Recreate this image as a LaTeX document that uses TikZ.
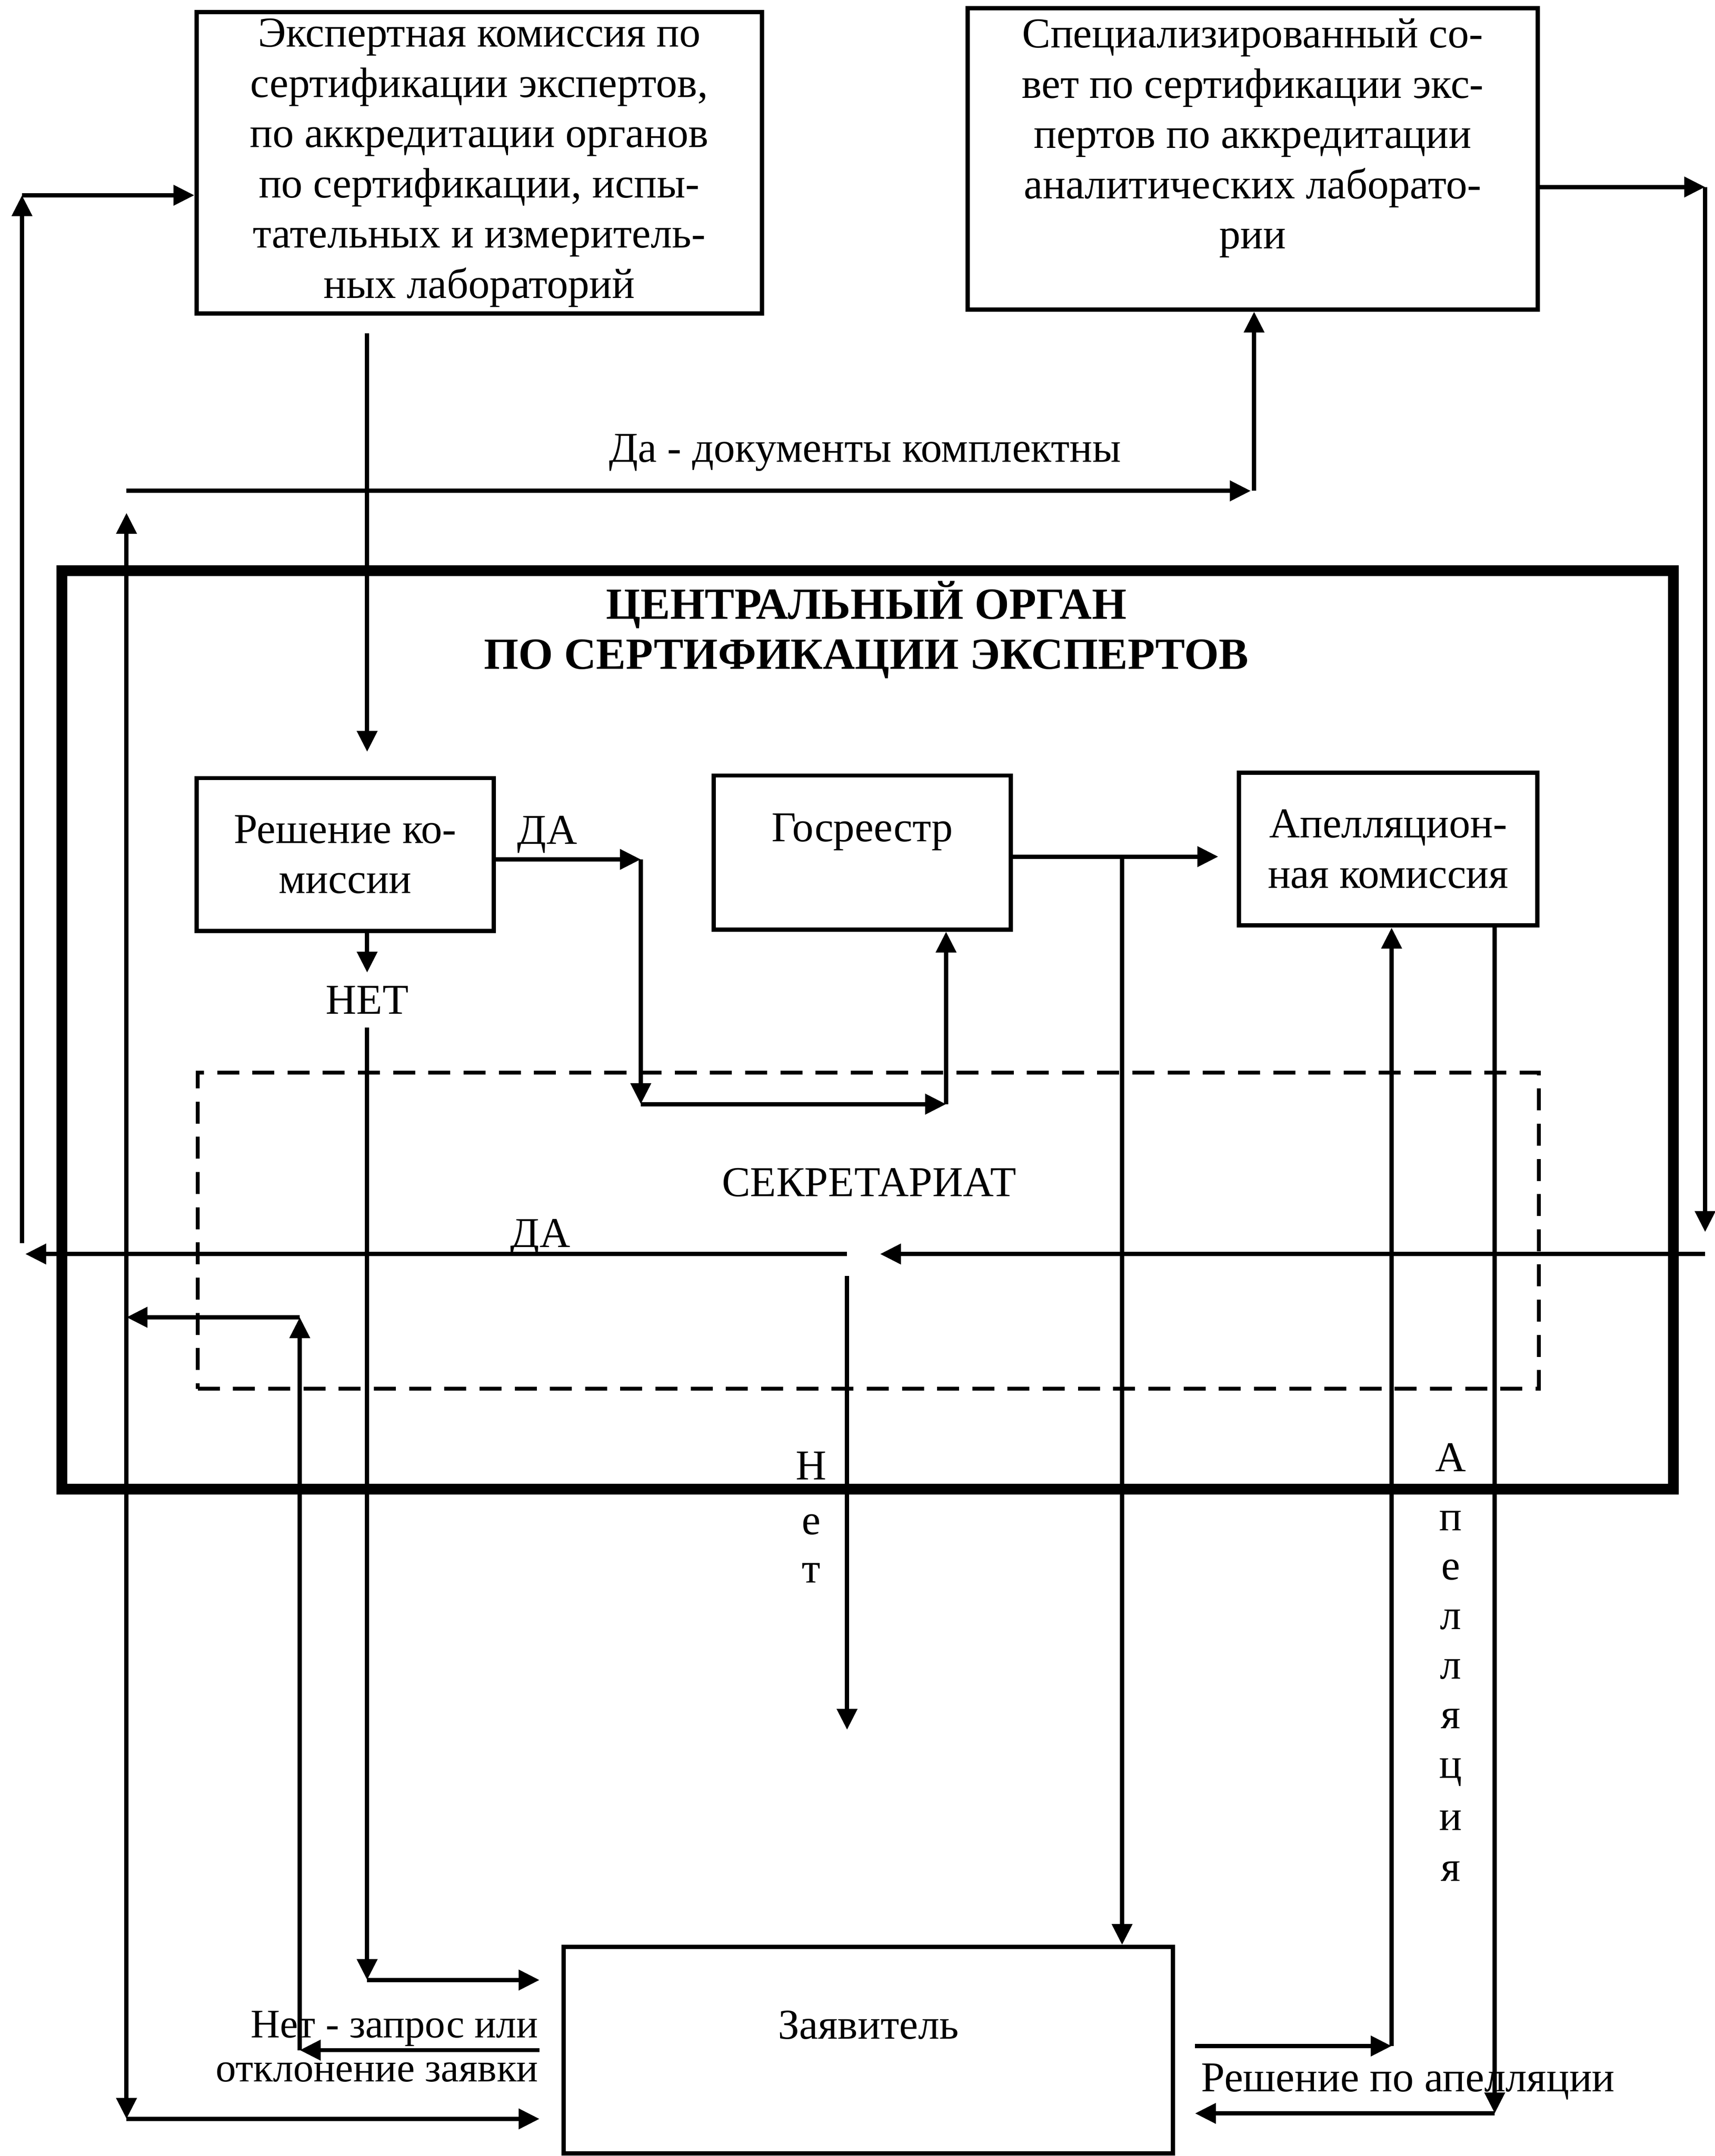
\documentclass[tikz,border=0pt]{standalone}
\usepackage{fontspec}
\setmainfont{Liberation Serif}
\usetikzlibrary{calc, positioning, arrows.meta}

\begin{document}
\begin{tikzpicture}[x=0.125mm, y=-0.125mm,
  every node/.append style={font=\fontsize{11}{13}\selectfont},
  box/.style={draw, line width=1.1pt, align=center, inner sep=1pt},
  arr/.style={-{Triangle[length=1.9mm, width=1.8mm]}, line width=1.1pt},
  lbl/.style={anchor=base, inner sep=0pt}]
  \useasboundingbox (0,0) rectangle (1247,1568);

  \node[box, minimum width=5.14cm, minimum height=2.74cm] (eks) at (348.5,118.5) {Экспертная комиссия по\\сертификации экспертов,\\по аккредитации органов\\по сертификации, испы-\\тательных и измеритель-\\ных лабораторий};
  \node[box, minimum width=5.18cm, minimum height=2.74cm] (sovet) at (911,115.5) {Специализированный со-\\вет по сертификации экс-\\пертов по аккредитации\\аналитических лаборато-\\рии\\\mbox{}};

  \node[draw, line width=2.8pt, minimum width=14.65cm, minimum height=8.35cm] (organ) at (631,749) {};
  \node[align=center, font=\bfseries\fontsize{11.5}{13}\selectfont] (title) at (630,458) {ЦЕНТРАЛЬНЫЙ ОРГАН\\ПО СЕРТИФИКАЦИИ ЭКСПЕРТОВ};

  \node[box, minimum width=2.7cm, minimum height=1.39cm] (resh) at (251,621.5) {Решение ко-\\миссии};
  \node[box, minimum width=2.7cm, minimum height=1.4cm] (gos) at (627,620) {Госреестр\\\mbox{}};
  \node[box, minimum width=2.71cm, minimum height=1.39cm] (apel) at (1009.5,617.5) {Апелляцион-\\ная комиссия};
  \node[draw, dash pattern=on 2mm off 1.2mm, line width=1pt, minimum width=12.19cm, minimum height=2.875cm] (sekr) at (631.5,895) {};
  \node[box, minimum width=5.54cm, minimum height=1.875cm] (zayav) at (631.5,1491) {Заявитель\\\mbox{}};

  \node[lbl] (lkompl) at (629,336) {Да - документы комплектны};
  \node[lbl] (lda1) at (398,614) {ДА};
  \node[anchor=base] (net) at (267,737.5) {НЕТ};
  \node[lbl] (lsekr) at (632,870) {СЕКРЕТАРИАТ};
  \node[lbl] (lda2) at (393,907) {ДА};
  \node[lbl, anchor=base east, font=\fontsize{10.5}{13}\selectfont] (lzapr1) at (392,1482) {Нет - запрос или};
  \node[lbl, anchor=base east, font=\fontsize{10.5}{13}\selectfont] (lzapr2) at (392,1514) {отклонение заявки};
  \node[lbl, anchor=base west] (lresh) at (873,1521) {Решение по апелляции};
  \foreach \ch/\y [count=\i] in {Н/1076, е/1116, т/1151}
    \node[lbl] (net\i) at (590,\y) {\ch};
  \foreach \ch/\y [count=\i] in {А/1070, п/1113, е/1149, л/1185, л/1221, я/1257, ц/1293, и/1331, я/1368}
    \node[lbl] (apl\i) at (1055,\y) {\ch};

  \coordinate (p) at (616,912);
  \coordinate (r1) at (1240,136);
  \coordinate (r2) at (1240,912);
  \coordinate (l1) at (16,142);
  \coordinate (l2) at (16,912);
  \coordinate (m1) at (92,357);
  \coordinate (m2) at (92,958);
  \coordinate (m3) at (92,1541);
  \coordinate (s1) at (218,958);
  \coordinate (s2) at (218,1491);
  \coordinate (n2) at (267,1440);
  \coordinate (d1) at (466,625);
  \coordinate (d2) at (466,803);
  \coordinate (g1) at (688,803);
  \coordinate (da) at (912,357);
  \coordinate (q) at (616,1258);
  \coordinate (z1) at (816,623);
  \coordinate (a1) at (1012,1488);
  \coordinate (a2) at (1087,1537);

  \draw[arr] (sovet.east |- r1) -- (r1);
  \draw[arr] (r1) -- ([yshift=2mm]r2);
  \draw[arr, shorten >=3mm] (r2) -- (p);
  \draw[arr] (p) -- ([xshift=0.3mm]l2);
  \draw[arr] ([yshift=1mm]l2) -- (l1);
  \draw[arr] (l1) -- (l1 -| eks.west);
  \draw[arr] ([yshift=-2mm]p) -- (q);

  \draw[arr, shorten <=1.6mm, shorten >=2.2mm] (eks.south -| net) -- (resh.north -| net);
  \draw[arr] (resh.south -| net) -- (net.north);
  \draw[arr] (net.south) -- (n2);
  \draw[arr, shorten >=2mm] (n2) -- (n2 -| zayav.west);

  \draw[arr] (m2) -- ([yshift=-2mm]m1);
  \draw[arr] (m2) -- (m3);
  \draw[arr, shorten >=2mm] (m3) -- (m3 -| zayav.west);
  \draw[arr] (m1) -- ([xshift=-0.3mm]da);
  \draw[arr] (da) -- (da |- sovet.south);
  \draw[arr, shorten <=2mm] (s2 -| zayav.west) -- (s2);
  \draw[arr] (s2) -- (s1);
  \draw[arr] (s1) -- (m2);

  \draw[arr] (resh.east |- d1) -- (d1);
  \draw[arr] (d1) -- (d2);
  \draw[arr] (d2) -- (g1);
  \draw[arr] (g1) -- (g1 |- gos.south);
  \draw[arr, shorten >=1.7mm] (gos.east |- z1) -- (z1 -| apel.west);
  \draw[arr] (z1) -- (z1 |- zayav.north);
  \draw[arr, shorten <=1.8mm] (zayav.east |- a1) -- (a1);
  \draw[arr] (a1) -- (a1 |- apel.south);
  \draw[arr] (a2 |- apel.south) -- (a2);
  \draw[arr, shorten >=1.8mm] (a2) -- (a2 -| zayav.east);
\end{tikzpicture}
\end{document}
